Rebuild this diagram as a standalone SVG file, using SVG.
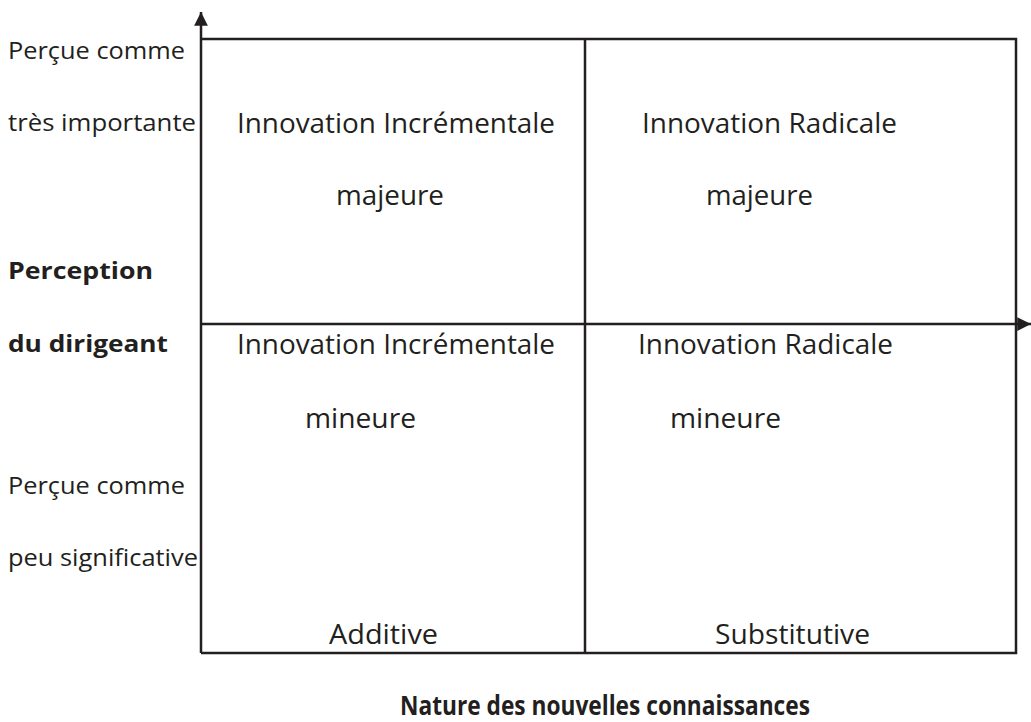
<svg xmlns="http://www.w3.org/2000/svg" width="1031" height="722" viewBox="0 0 1031 722">
<style>
text{font-family:"Open Sans","Liberation Sans",sans-serif;font-size:27px;fill:#231f20}
.s{font-size:24px}
.b{font-weight:bold;font-size:24px}
.ln{stroke:#231f20;stroke-width:2.5;fill:none}
</style>
<defs>
<marker id="ah" viewBox="0 0 10 10" refX="10" refY="5" markerWidth="5.5" markerHeight="5.5" orient="auto" markerUnits="strokeWidth">
<path d="M0,0 L10,5 L0,10 Z" fill="#231f20"/>
</marker>
</defs>
<rect width="1031" height="722" fill="#fff"/>
<g id="connectors">
<line class="ln" x1="201" y1="653" x2="201" y2="12" marker-end="url(#ah)"/>
<line class="ln" x1="201" y1="324" x2="1031" y2="324" marker-end="url(#ah)"/>
<polyline class="ln" points="201,39 1016,39 1016,653 201,653"/>
<line class="ln" x1="585" y1="39" x2="585" y2="653"/>
</g>
<g id="q1"><text x="237" y="133" textLength="318" lengthAdjust="spacingAndGlyphs">Innovation Incrémentale</text><text x="336" y="205" textLength="108" lengthAdjust="spacingAndGlyphs">majeure</text></g>
<g id="q2"><text x="642" y="133" textLength="255" lengthAdjust="spacingAndGlyphs">Innovation Radicale</text><text x="706" y="205" textLength="107" lengthAdjust="spacingAndGlyphs">majeure</text></g>
<g id="q3"><text x="237" y="354" textLength="318" lengthAdjust="spacingAndGlyphs">Innovation Incrémentale</text><text x="305" y="428" textLength="111" lengthAdjust="spacingAndGlyphs">mineure</text></g>
<g id="q4"><text x="638" y="354" textLength="255" lengthAdjust="spacingAndGlyphs">Innovation Radicale</text><text x="670" y="428" textLength="111" lengthAdjust="spacingAndGlyphs">mineure</text></g>
<g id="yaxis">
<text class="s" x="8" y="59" textLength="177" lengthAdjust="spacingAndGlyphs">Perçue comme</text>
<text class="s" x="8" y="131" textLength="188" lengthAdjust="spacingAndGlyphs">très importante</text>
<text class="b" x="8" y="279" textLength="145" lengthAdjust="spacingAndGlyphs">Perception</text>
<text class="b" x="8" y="352" textLength="160" lengthAdjust="spacingAndGlyphs">du dirigeant</text>
<text class="s" x="8" y="494" textLength="177" lengthAdjust="spacingAndGlyphs">Perçue comme</text>
<text class="s" x="8" y="566" textLength="190" lengthAdjust="spacingAndGlyphs">peu significative</text>
</g>
<g id="xaxis">
<text x="329" y="644" textLength="109" lengthAdjust="spacingAndGlyphs">Additive</text>
<text x="715" y="644" textLength="155" lengthAdjust="spacingAndGlyphs">Substitutive</text>
<text class="b" x="400" y="715" style="font-size:26px" textLength="410" lengthAdjust="spacingAndGlyphs">Nature des nouvelles connaissances</text>
</g>
</svg>
